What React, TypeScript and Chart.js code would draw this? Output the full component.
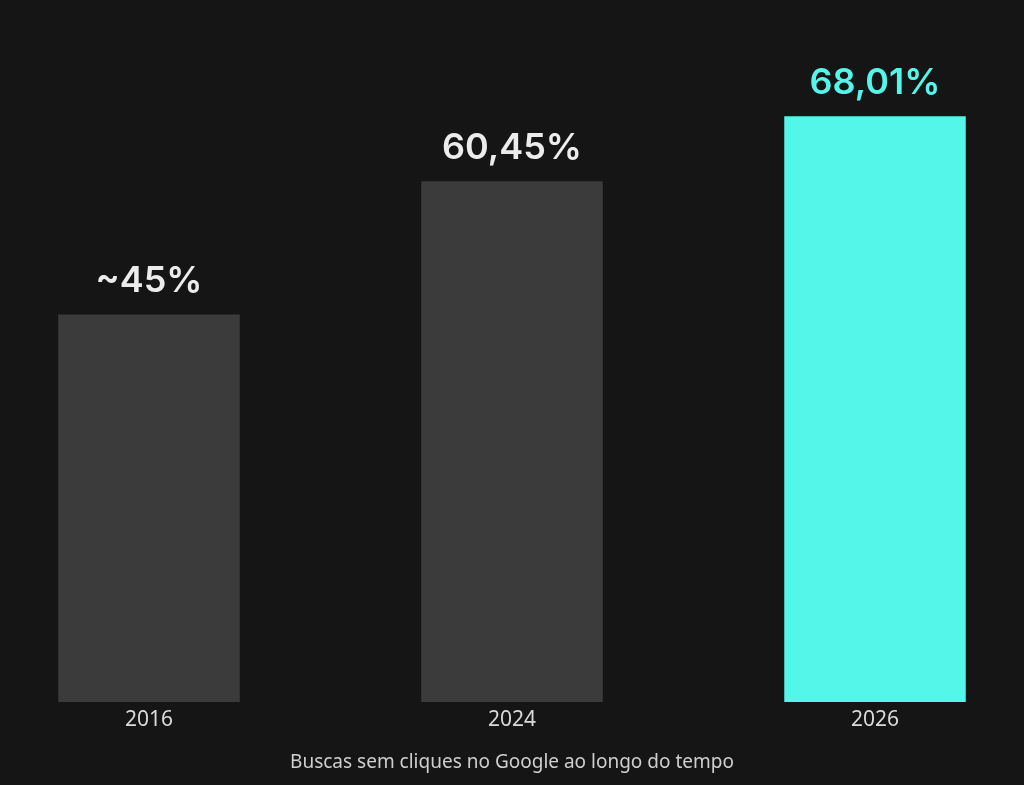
import React, { useEffect, useRef } from 'react'
import { Chart, registerables } from 'chart.js'

Chart.register(...registerables)

const years = ['2016', '2024', '2026']
const shares = [45, 60.45, 68.01]
const valueLabels = ['~45%', '60,45%', '68,01%']
const barColors = ['#3b3b3b', '#3b3b3b', '#55f6ea']
const labelColors = ['#ececec', '#ececec', '#55f6ea']
const caption = 'Buscas sem cliques no Google ao longo do tempo'

// draws the value text above each bar
const valueLabelPlugin = {
  id: 'valueLabels',
  afterDatasetsDraw(chart) {
    const ctx = chart.ctx
    const meta = chart.getDatasetMeta(0)
    ctx.save()
    ctx.font = '600 36px Inter'
    ctx.textAlign = 'center'
    ctx.textBaseline = 'alphabetic'
    meta.data.forEach((bar, i) => {
      ctx.fillStyle = labelColors[i]
      ctx.fillText(valueLabels[i], bar.x, bar.y - 22)
    })
    ctx.restore()
  }
}

const App = () => {
  const chartRef = useRef(null)
  const chartInstanceRef = useRef(null)

  useEffect(() => {
    document.body.style.margin = '0'
    document.body.style.background = '#151515'
    const ctx = chartRef.current.getContext('2d')

    chartInstanceRef.current = new Chart(ctx, {
      type: 'bar',
      data: {
        datasets: [
          {
            data: shares.map((v, i) => ({ x: i, y: v })),
            backgroundColor: barColors,
            categoryPercentage: 0.5,
            barPercentage: 1.0,
            borderWidth: 0
          }
        ]
      },
      options: {
        animation: false,
        responsive: false,
        layout: { padding: { top: 13, left: 0, right: 0, bottom: 11 } },
        plugins: {
          legend: { display: false },
          tooltip: { enabled: false }
        },
        scales: {
          x: {
            type: 'linear',
            offset: false,
            min: -149 / 363,
            max: 2 + 149 / 363,
            afterBuildTicks: (axis) => {
              axis.ticks = years.map((_, i) => ({ value: i }))
            },
            grid: { display: false },
            border: { display: false },
            ticks: {
              color: '#dadada',
              font: { family: 'Noto Sans', size: 21 },
              padding: -3,
              autoSkip: false,
              maxRotation: 0,
              callback: (v) => years[v] ?? ''
            },
            title: {
              display: true,
              text: caption,
              color: '#cfcfcf',
              font: { family: 'Noto Sans', size: 19 },
              padding: { top: 22, bottom: 0 }
            }
          },
          y: {
            display: false,
            min: 0,
            max: 80
          }
        }
      },
      plugins: [valueLabelPlugin]
    })

    return () => {
      chartInstanceRef.current.destroy()
    }
  }, [])

  return (
    <div style={{ width: 1024, height: 785, background: '#151515' }}>
      <canvas ref={chartRef} width={1024} height={785} style={{ width: 1024, height: 785, display: 'block' }}></canvas>
    </div>
  )
}

export default App
